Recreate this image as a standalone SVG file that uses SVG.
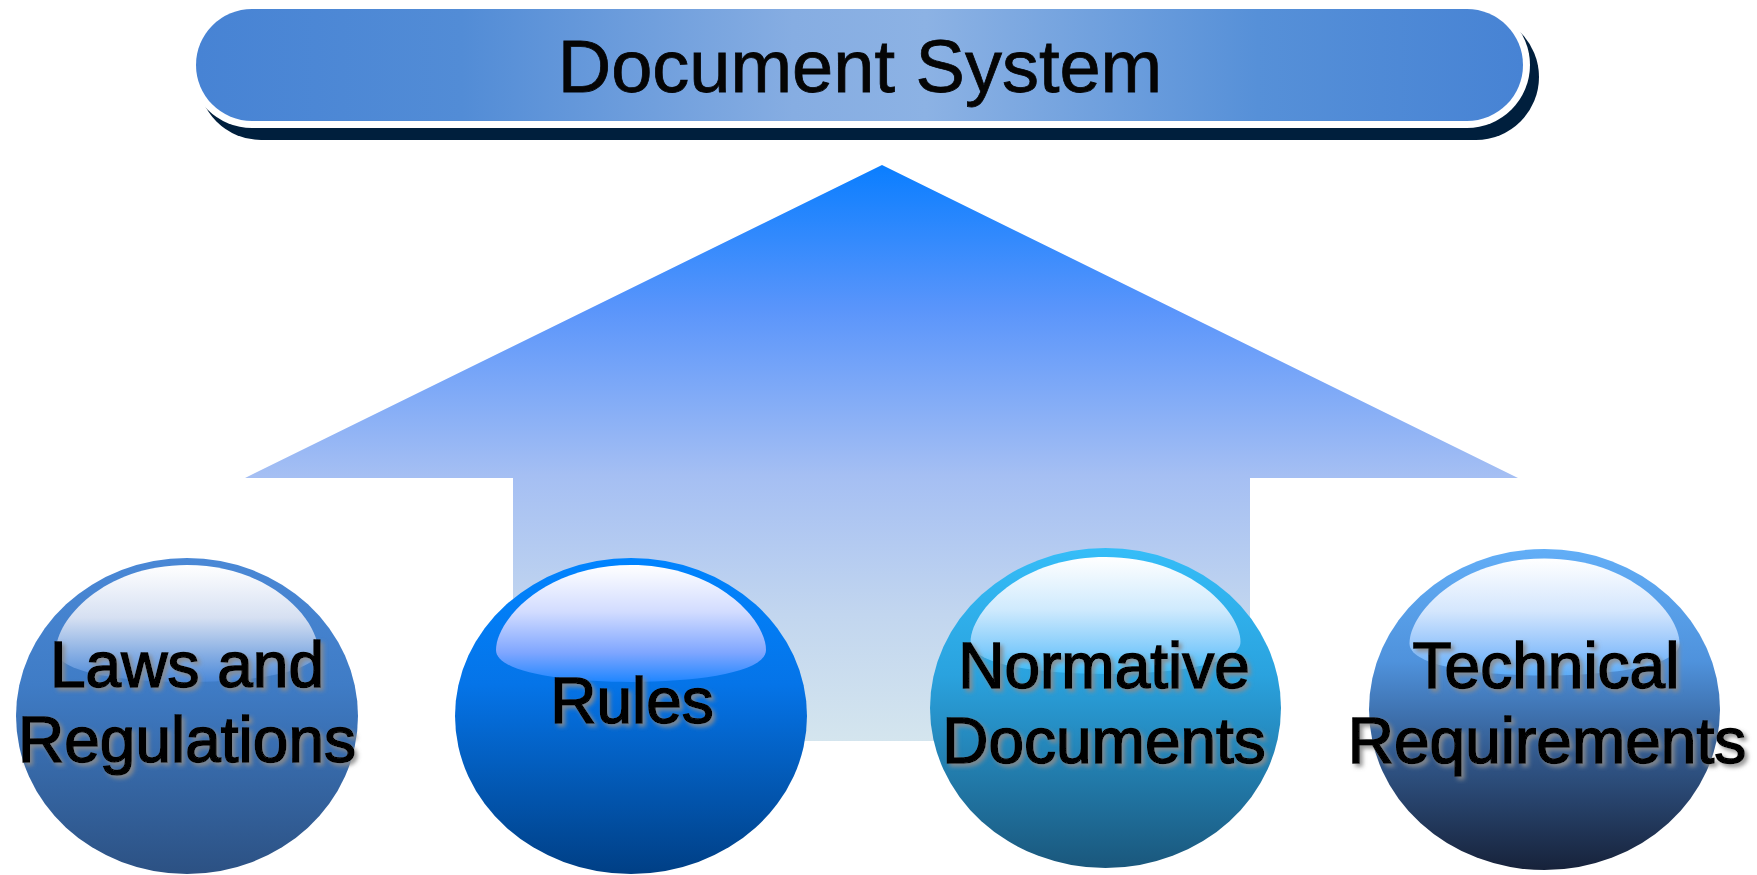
<svg xmlns="http://www.w3.org/2000/svg" width="1757" height="875" viewBox="0 0 1757 875">
  <defs>
    <style>
      .lbl { font-family: "Liberation Sans", Arial, sans-serif; font-size: 64px; fill: #050505; stroke: #050505; stroke-width: 1.6px; text-anchor: middle; filter: url(#tshadow); }
      .title { font-family: "Liberation Sans", Arial, sans-serif; font-size: 74px; fill: #050505; stroke: #050505; stroke-width: 0.8px; text-anchor: middle; }
    </style>
    <filter id="tshadow" x="-10%" y="-20%" width="120%" height="150%">
      <feDropShadow dx="3" dy="3" stdDeviation="2" flood-color="#8a8a8a" flood-opacity="0.9"/>
    </filter>
    <linearGradient id="gTitle" x1="0" y1="0" x2="1" y2="0">
      <stop offset="0" stop-color="#4783d4"/>
      <stop offset="0.2" stop-color="#528cd6"/>
      <stop offset="0.45" stop-color="#86ade2"/>
      <stop offset="0.55" stop-color="#8cb2e4"/>
      <stop offset="0.8" stop-color="#5690d8"/>
      <stop offset="1" stop-color="#4783d4"/>
    </linearGradient>
    <linearGradient id="gArrow" gradientUnits="userSpaceOnUse" x1="0" y1="165" x2="0" y2="741">
      <stop offset="0" stop-color="#0a7eff"/>
      <stop offset="0.25" stop-color="#5a95fb"/>
      <stop offset="0.54" stop-color="#a5bff3"/>
      <stop offset="0.78" stop-color="#c2d6ef"/>
      <stop offset="1" stop-color="#d4e5ee"/>
    </linearGradient>
    <linearGradient id="g1" x1="0" y1="0" x2="0" y2="1">
      <stop offset="0" stop-color="#4a88d6"/>
      <stop offset="0.4" stop-color="#3f7cc6"/>
      <stop offset="1" stop-color="#2c5183"/>
    </linearGradient>
    <linearGradient id="g2" x1="0" y1="0" x2="0" y2="1">
      <stop offset="0" stop-color="#0084ff"/>
      <stop offset="0.4" stop-color="#0574e8"/>
      <stop offset="1" stop-color="#003f85"/>
    </linearGradient>
    <linearGradient id="g3" x1="0" y1="0" x2="0" y2="1">
      <stop offset="0" stop-color="#35bdf8"/>
      <stop offset="0.4" stop-color="#2aa2de"/>
      <stop offset="1" stop-color="#1a577c"/>
    </linearGradient>
    <linearGradient id="g4" x1="0" y1="0" x2="0" y2="1">
      <stop offset="0" stop-color="#62aef7"/>
      <stop offset="0.35" stop-color="#4f92dc"/>
      <stop offset="0.65" stop-color="#31578a"/>
      <stop offset="1" stop-color="#17223a"/>
    </linearGradient>
    <linearGradient id="h1" x1="0" y1="0" x2="0" y2="1">
      <stop offset="0" stop-color="#ffffff"/>
      <stop offset="0.45" stop-color="#d6e0f2"/>
      <stop offset="1" stop-color="#4a88d8"/>
    </linearGradient>
    <linearGradient id="h2" x1="0" y1="0" x2="0" y2="1">
      <stop offset="0" stop-color="#ffffff"/>
      <stop offset="0.4" stop-color="#d2dcff"/>
      <stop offset="0.75" stop-color="#7fa6ff"/>
      <stop offset="1" stop-color="#1f86ff"/>
    </linearGradient>
    <linearGradient id="h3" x1="0" y1="0" x2="0" y2="1">
      <stop offset="0" stop-color="#ffffff"/>
      <stop offset="0.45" stop-color="#cfeafd"/>
      <stop offset="0.8" stop-color="#80cbfb"/>
      <stop offset="1" stop-color="#38baf6"/>
    </linearGradient>
    <linearGradient id="h4" x1="0" y1="0" x2="0" y2="1">
      <stop offset="0" stop-color="#ffffff"/>
      <stop offset="0.45" stop-color="#d4e6fd"/>
      <stop offset="0.8" stop-color="#8cc0fb"/>
      <stop offset="1" stop-color="#5cacf7"/>
    </linearGradient>
    <path id="hl" d="M -135,-66 C -135,-96 -86,-151 0,-151 C 86,-151 135,-96 135,-66 C 135,-44 69,-34 0,-34 C -69,-34 -135,-44 -135,-66 Z"/>
  </defs>

  <g id="arrow">
    <polygon points="882,165 1518,478 1250,478 1250,741 513,741 513,478 245,478" fill="url(#gArrow)"/>
  </g>

  <g id="node-laws">
    <ellipse cx="187" cy="716" rx="171" ry="158" fill="url(#g1)"/>
    <use href="#hl" transform="translate(187,716) scale(0.97,1)" fill="url(#h1)"/>
    <text class="lbl" x="187" y="687">Laws and</text>
    <text class="lbl" x="187" y="762">Regulations</text>
  </g>

  <g id="node-rules">
    <ellipse cx="631" cy="716" rx="176" ry="158" fill="url(#g2)"/>
    <use href="#hl" transform="translate(631,716)" fill="url(#h2)"/>
    <text class="lbl" x="632" y="723">Rules</text>
  </g>

  <g id="node-normative">
    <ellipse cx="1105.5" cy="708" rx="175.5" ry="160" fill="url(#g3)"/>
    <use href="#hl" transform="translate(1105.5,708)" fill="url(#h3)"/>
    <text class="lbl" x="1104" y="688">Normative</text>
    <text class="lbl" x="1104" y="763">Documents</text>
  </g>

  <g id="node-technical">
    <ellipse cx="1544.5" cy="709.5" rx="175.5" ry="160.5" fill="url(#g4)"/>
    <use href="#hl" transform="translate(1544.5,709.5)" fill="url(#h4)"/>
    <text class="lbl" x="1546" y="688">Technical</text>
    <text class="lbl" x="1547" y="763">Requirements</text>
  </g>

  <g id="node-title">
    <rect x="198" y="14" width="1341" height="126" rx="63" fill="#001f3d"/>
    <rect x="189" y="2" width="1341" height="126" rx="63" fill="#ffffff"/>
    <rect x="196" y="9" width="1327" height="112" rx="56" fill="url(#gTitle)"/>
    <text class="title" x="860" y="92">Document System</text>
  </g>
</svg>
